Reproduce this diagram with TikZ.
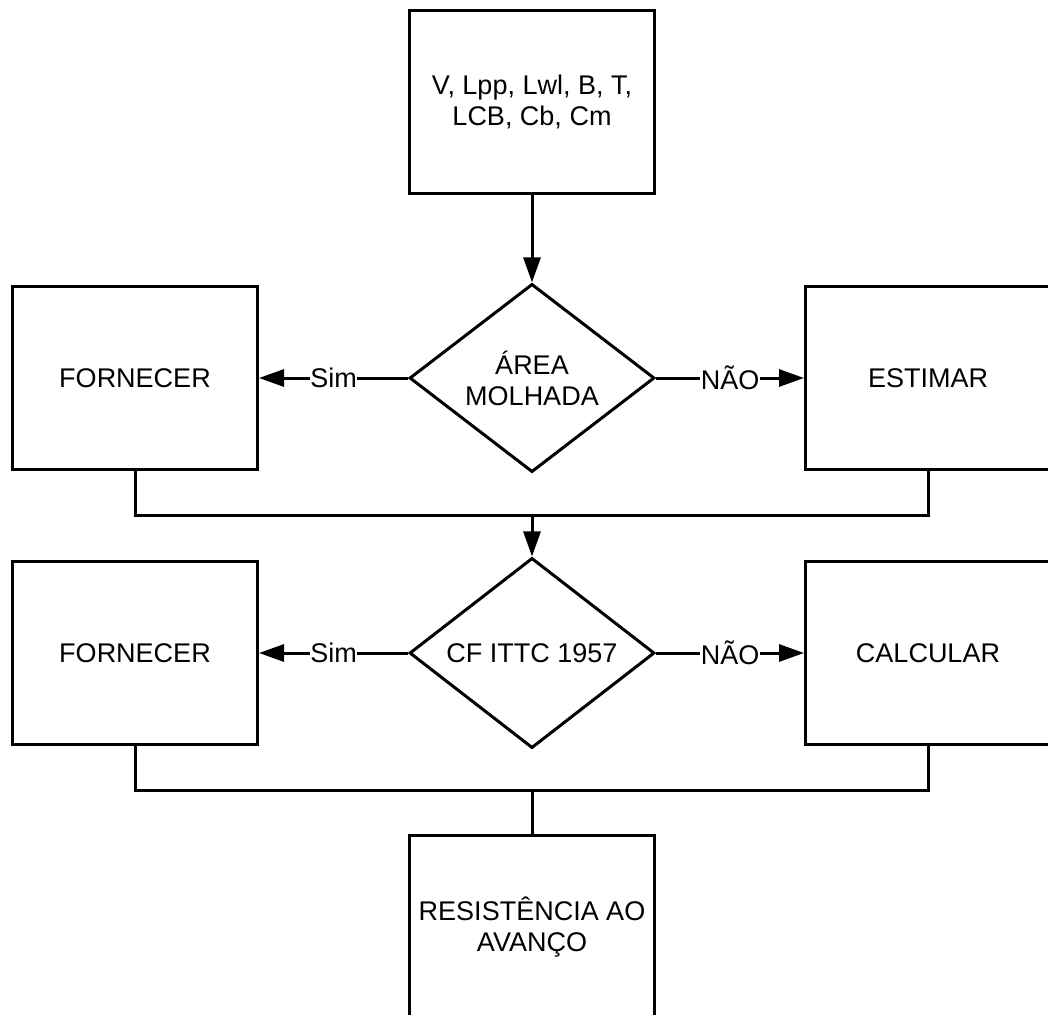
\documentclass[tikz,border=0pt]{standalone}
\usepackage{fontspec}
\setmainfont{Liberation Sans}
\usetikzlibrary{shapes.geometric,arrows.meta}
\begin{document}
\begin{tikzpicture}[x=1pt,y=-1pt,
  font=\fontsize{27}{31}\selectfont,
  line width=3pt,
  box/.style={draw,rectangle,minimum width=245pt,minimum height=183pt,inner sep=0pt,align=center},
  decision/.style={draw,diamond,minimum width=245pt,minimum height=183pt,inner sep=0pt,align=center},
  arr/.style={-{Triangle[length=25pt,width=17pt]}},
  lbl/.style={fill=white,inner sep=0.5pt}]
\useasboundingbox (0,0) rectangle (1048,1014);
\clip (0,0) rectangle (1048,1014);

% input data
\node[box] (inp) at (532,102) {V, Lpp, Lwl, B, T,\\LCB, Cb, Cm};

% wetted area decision
\node[decision] (d1) at (532,378) {ÁREA\\MOLHADA};
\node[box] (f1) at (135,378) {FORNECER};
\node[box] (e1) at (928,378) {ESTIMAR};

% friction coefficient decision
\node[decision] (d2) at (532,653) {CF ITTC 1957};
\node[box] (f2) at (135,653) {FORNECER};
\node[box] (c2) at (928,653) {CALCULAR};

% result
\node[box] (res) at (532,927) {RESISTÊNCIA AO\\AVANÇO};

% junction points
\coordinate (j1) at (532,515);
\coordinate (j2) at (532,790);

\draw[arr] (inp.south) -- (d1.north);
\draw[arr] (d1.west) -- node[lbl,pos=0.5]{Sim} (f1.east);
\draw[arr] (d1.east) -- node[lbl,pos=0.5]{NÃO} (e1.west);
\draw (f1.south) |- (j1) -| (e1.south);
\draw[arr] (j1) -- (d2.north);
\draw[arr] (d2.west) -- node[lbl,pos=0.5]{Sim} (f2.east);
\draw[arr] (d2.east) -- node[lbl,pos=0.5]{NÃO} (c2.west);
\draw (f2.south) |- (j2) -| (c2.south);
\draw (j2) -- (res.north);
\end{tikzpicture}
\end{document}
